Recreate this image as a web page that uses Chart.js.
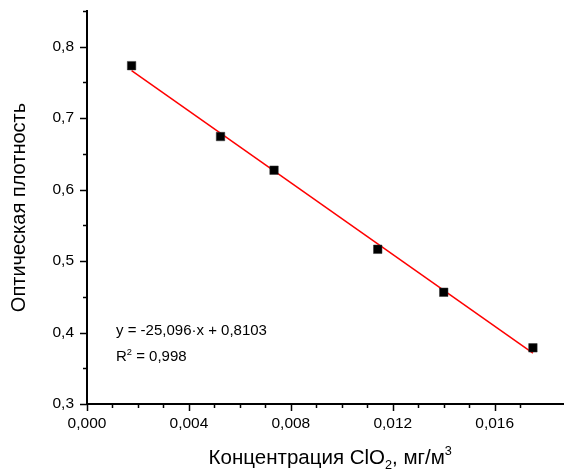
<!DOCTYPE html>
<html>
<head>
<meta charset="utf-8">
<script src="https://cdn.jsdelivr.net/npm/chart.js@4"></script>
<style>
    html, body { margin: 0; padding: 0; background: #fff; }
    #wrap { width: 570px; height: 470px; }
</style>
</head>
<body>
<div id="wrap"><canvas id="calibChart" width="570" height="470"></canvas></div>
<script>
// Data
const concentration = [0.00175, 0.00524, 0.00734, 0.01141, 0.01400, 0.01750];
const opticalDensity = [0.7735, 0.6743, 0.6272, 0.5165, 0.4564, 0.3786];

// Linear fit line (ends as drawn)
const fitX = [0.00175, 0.01750];
const fitY = [0.7664, 0.3711];

const xTitle = [{ t: 'Концентрация ClO' }, { t: '2', sub: true }, { t: ', мг/м' }, { t: '3', sup: true }];
const yTitle = 'Оптическая плотность';
const fitLines = [
    [{ t: 'y = -25,096·x + 0,8103' }],
    [{ t: 'R' }, { t: '2', sup: true }, { t: ' = 0,998' }]
];

const FONT = '"Liberation Sans", Arial, sans-serif';

// text with sub/superscripts
function drawRich(ctx, parts, x, y, size, align) {
    const small = size * 0.62;
    let total = 0;
    parts.forEach(p => {
        ctx.font = `${(p.sub || p.sup) ? small : size}px ${FONT}`;
        total += ctx.measureText(p.t).width;
    });
    let cx = align === 'center' ? x - total / 2 : x;
    ctx.textAlign = 'left';
    ctx.textBaseline = 'alphabetic';
    parts.forEach(p => {
        ctx.font = `${(p.sub || p.sup) ? small : size}px ${FONT}`;
        let dy = 0;
        if (p.sub) dy = size * 0.22;
        if (p.sup) dy = -size * 0.42;
        ctx.fillText(p.t, cx, y + dy);
        cx += ctx.measureText(p.t).width;
    });
}

function isStep(v, step) {
    const k = Math.round(v / step);
    return Math.abs(v / step - k) < 1e-6 ? k : null;
}

const decorPlugin = {
    id: 'decor',
    afterDraw(chart) {
        const { ctx, scales: { x, y }, chartArea } = chart;
        ctx.save();
        ctx.strokeStyle = '#000';
        ctx.lineWidth = 1.5;
        // tick marks, long for labelled, short for minor
        x.ticks.forEach(t => {
            const k = isStep(t.value, 0.001);
            if (k === null) return;
            const px = Math.round(x.getPixelForValue(t.value)) + 0.5;
            const len = k % 4 === 0 ? 7 : 4;
            ctx.beginPath();
            ctx.moveTo(px, x.top);
            ctx.lineTo(px, x.top + len);
            ctx.stroke();
        });
        y.ticks.forEach(t => {
            const k = isStep(t.value, 0.05);
            if (k === null) return;
            const py = Math.round(y.getPixelForValue(t.value)) + 0.5;
            const len = k % 2 === 0 ? 7 : 4;
            ctx.beginPath();
            ctx.moveTo(y.right, py);
            ctx.lineTo(y.right - len, py);
            ctx.stroke();
        });

        ctx.fillStyle = '#000';
        // axis titles
        drawRich(ctx, xTitle, (chartArea.left + chartArea.right) / 2 + 5, 464, 20.5, 'center');
        ctx.save();
        ctx.translate(25, (chartArea.top + chartArea.bottom) / 2);
        ctx.rotate(-Math.PI / 2);
        ctx.font = `20px ${FONT}`;
        ctx.textAlign = 'center';
        ctx.textBaseline = 'alphabetic';
        ctx.fillText(yTitle, 0, 0);
        ctx.restore();

        // fit equation
        drawRich(ctx, fitLines[0], chartArea.left + 29, 335, 15, 'left');
        drawRich(ctx, fitLines[1], chartArea.left + 29, 361, 15, 'left');
        ctx.restore();
    }
};

Chart.defaults.color = '#000';
Chart.defaults.font.family = FONT;

const ctx = document.getElementById('calibChart').getContext('2d');
new Chart(ctx, {
    type: 'scatter',
    data: {
        datasets: [
            {
                label: 'Измерения',
                data: concentration.map((c, i) => ({ x: c, y: opticalDensity[i] })),
                pointStyle: 'rect',
                pointRadius: 6,
                pointHoverRadius: 6,
                backgroundColor: '#000',
                borderColor: '#333',
                borderWidth: 0.5,
                order: 1
            },
            {
                label: 'Аппроксимация',
                data: fitX.map((c, i) => ({ x: c, y: fitY[i] })),
                showLine: true,
                borderColor: '#ff0000',
                borderWidth: 1.5,
                pointRadius: 0,
                order: 2
            }
        ]
    },
    options: {
        responsive: false,
        animation: false,
        devicePixelRatio: 1,
        layout: { padding: { top: 11, right: 0, bottom: 0, left: 0 } },
        plugins: {
            legend: { display: false },
            tooltip: { enabled: false }
        },
        scales: {
            x: {
                type: 'linear',
                min: 0,
                max: 0.0187,
                grid: { display: false, drawTicks: false },
                border: { display: true, color: '#000', width: 2 },
                ticks: {
                    stepSize: 0.001,
                    autoSkip: false,
                    maxRotation: 0,
                    padding: 10,
                    font: { size: 15.5 },
                    callback: (v) => {
                        const k = isStep(v, 0.001);
                        if (k === null || k % 4 !== 0) return '';
                        return (k / 1000).toFixed(3).replace('.', ',');
                    }
                },
                afterFit: (scale) => {
                    scale.height = 66;
                    scale.paddingLeft = 0;
                    scale.paddingRight = 0;
                }
            },
            y: {
                type: 'linear',
                min: 0.3,
                max: 0.85,
                grid: { display: false, drawTicks: false },
                border: { display: true, color: '#000', width: 2 },
                ticks: {
                    stepSize: 0.05,
                    autoSkip: false,
                    padding: 13,
                    font: { size: 15.5 },
                    callback: (v) => {
                        const k = isStep(v, 0.05);
                        if (k === null || k % 2 !== 0) return '';
                        return (k * 0.05).toFixed(1).replace('.', ',');
                    }
                },
                afterFit: (scale) => {
                    scale.width = 87;
                    scale.paddingTop = 0;
                    scale.paddingBottom = 0;
                }
            }
        }
    },
    plugins: [decorPlugin]
});
</script>
</body>
</html>
